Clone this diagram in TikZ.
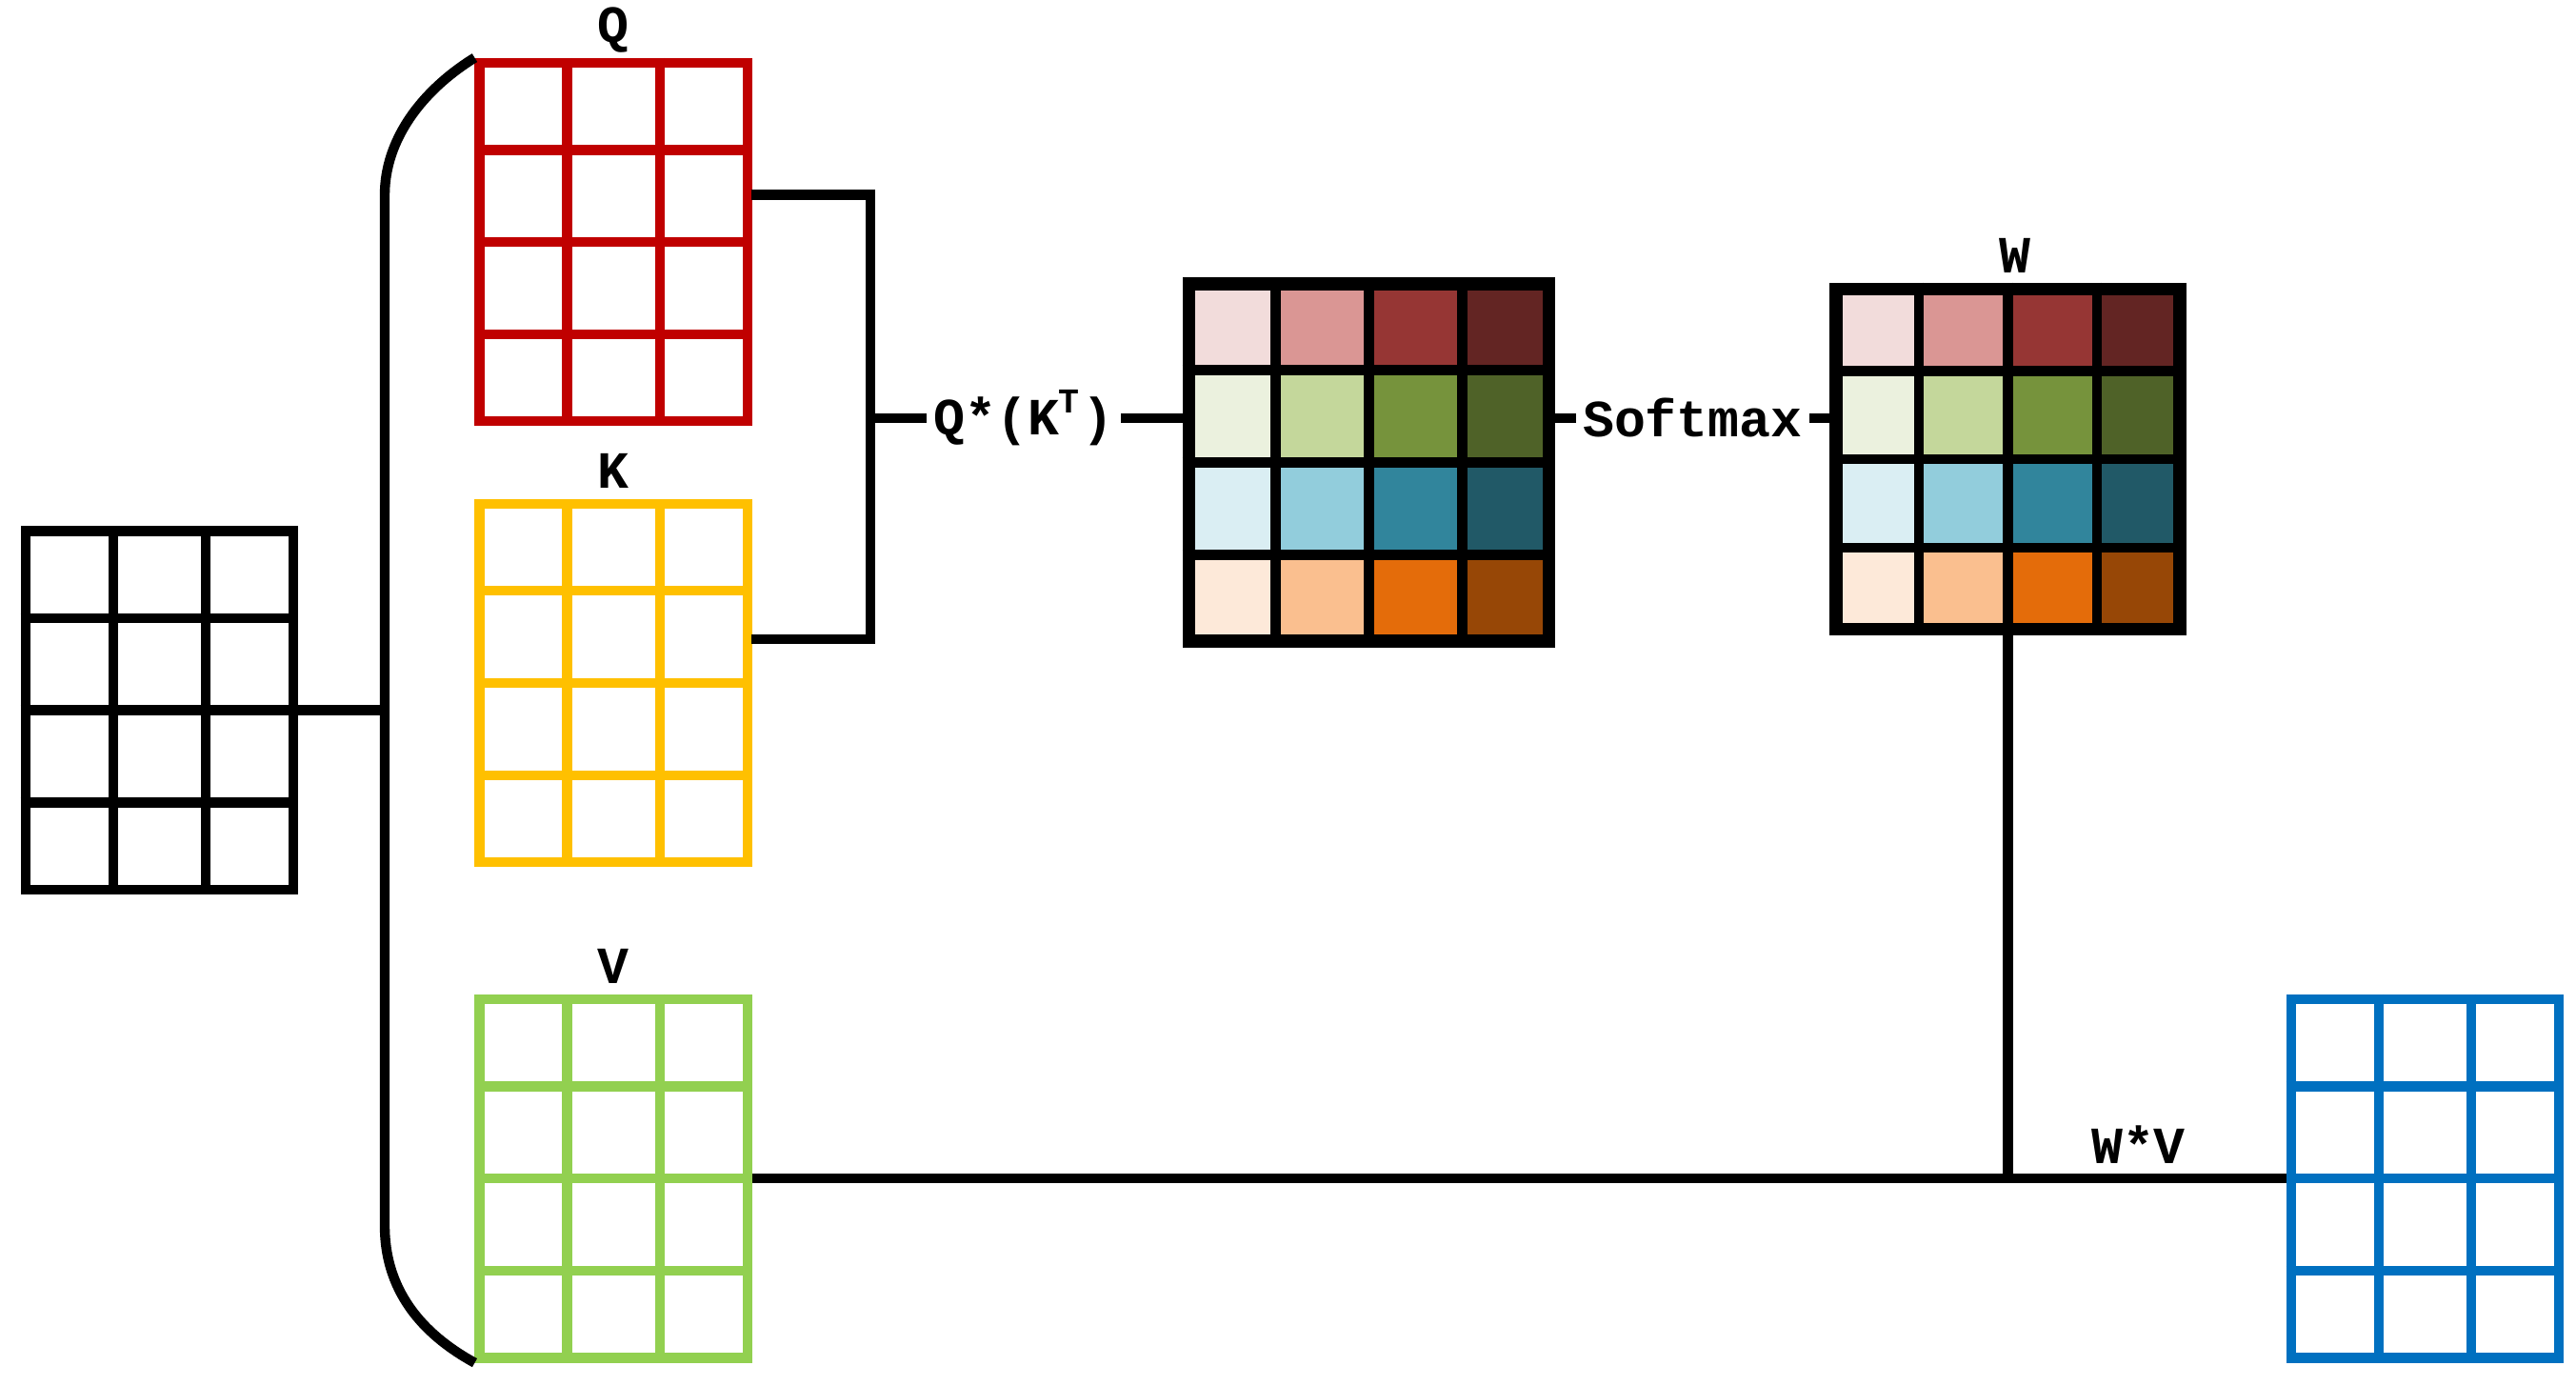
\documentclass[tikz,border=0pt]{standalone}
\usepackage{fontspec}
\setmonofont{Liberation Mono}
\usetikzlibrary{calc}
\definecolor{qred}{HTML}{C00000}
\definecolor{kyel}{HTML}{FFC000}
\definecolor{vgrn}{HTML}{92D050}
\definecolor{oblu}{HTML}{0070C0}
\definecolor{h11}{HTML}{F2DCDB}\definecolor{h12}{HTML}{DA9694}\definecolor{h13}{HTML}{963634}\definecolor{h14}{HTML}{632523}
\definecolor{h21}{HTML}{EBF1DE}\definecolor{h22}{HTML}{C4D79B}\definecolor{h23}{HTML}{76933C}\definecolor{h24}{HTML}{4F6228}
\definecolor{h31}{HTML}{DAEEF3}\definecolor{h32}{HTML}{92CDDC}\definecolor{h33}{HTML}{31859C}\definecolor{h34}{HTML}{215967}
\definecolor{h41}{HTML}{FDE9D9}\definecolor{h42}{HTML}{FABF8F}\definecolor{h43}{HTML}{E46C0A}\definecolor{h44}{HTML}{974706}
\newcommand{\gridlines}[4]{% node, cols, rows, colour
  \foreach \i in {1,...,\numexpr#2-1\relax}
    \draw[#4,line width=1.7pt] ($(#1.north west)!\i/#2!(#1.north east)$) -- ($(#1.south west)!\i/#2!(#1.south east)$);
  \foreach \j in {1,...,\numexpr#3-1\relax}
    \draw[#4,line width=1.7pt] ($(#1.north west)!\j/#3!(#1.south west)$) -- ($(#1.north east)!\j/#3!(#1.south east)$);
}
\newcommand{\heatcells}[1]{% fill the 4x4 cells of node #1
  \foreach \r in {1,...,4}
    \foreach \c in {1,...,4}
      \fill[h\r\c] ($(#1.north west)!{(\c-1)/4}!(#1.north east)!{(\r-1)/4}!($(#1.south west)!{(\c-1)/4}!(#1.south east)$)$)
        rectangle ($(#1.north west)!{\c/4}!(#1.north east)!{\r/4}!($(#1.south west)!{\c/4}!(#1.south east)$)$);
}
\begin{document}
\begin{tikzpicture}[
    x=0.01cm,y=-0.01cm,
    mat/.style={draw,line width=1.7pt,inner sep=0pt,minimum width=1.62cm,minimum height=2.17cm},
    heat/.style={draw,line width=2.2pt,inner sep=0pt},
    lbl/.style={font=\ttfamily\bfseries\small},
    wire/.style={line width=1.7pt}
    ]
    \useasboundingbox (0,0) rectangle (1560,839);

    % matrices
    \node[mat,black] (In) at (96.5,430) {};
    \node[mat,qred] (Q) at (371.5,146.5) {};
    \node[mat,kyel] (K) at (371.5,413.5) {};
    \node[mat,vgrn] (V) at (371.5,713.5) {};
    \node[mat,oblu] (Out) at (1468.5,713.5) {};
    \node[heat,minimum width=2.18cm,minimum height=2.16cm] (QK) at (829,280) {};
    \node[heat,minimum width=2.08cm,minimum height=2.06cm] (W) at (1216,278) {};
    \heatcells{QK}
    \heatcells{W}
    \node[heat,minimum width=2.18cm,minimum height=2.16cm] at (QK) {};
    \node[heat,minimum width=2.08cm,minimum height=2.06cm] at (W) {};
    \gridlines{In}{3}{4}{black}
    \gridlines{Q}{3}{4}{qred}
    \gridlines{K}{3}{4}{kyel}
    \gridlines{V}{3}{4}{vgrn}
    \gridlines{Out}{3}{4}{oblu}
    \gridlines{QK}{4}{4}{black}
    \gridlines{W}{4}{4}{black}

    % labels
    \node[lbl] at (371.5,18) {Q};
    \node[lbl] at (371.5,285) {K};
    \node[lbl] at (371.5,585) {V};
    \node[lbl] at (1220,155) {W};
    \node[lbl,inner sep=1pt] (Mul) at (620,253) {Q*(K\textsuperscript{T})};
    \node[lbl,inner sep=1pt] (Soft) at (1025,253) {Softmax};
    \node[lbl] at (1295,693) {W*V};

    % connectors
    \coordinate (Split) at (233,430);
    \coordinate (Join) at (527,253);
    \coordinate (Tap) at (1216,714);
    \draw[wire] (In.east) -- (Split);
    \draw[wire] (Q.north west) .. controls (255,55) and (233,85) .. (233,118) -- (233,742)
        .. controls (233,785) and (260,810) .. (V.south west);
    \draw[wire] (455,118) -| (Join) |- (455,387);
    \draw[wire] (Join) -- (Mul.west);
    \draw[wire] (Mul.east) -- (Mul.east -| QK.west);
    \draw[wire] (Soft.west -| QK.east) -- (Soft.west);
    \draw[wire] (Soft.east) -- (Soft.east -| W.west);
    \draw[wire] (W.south) -- (Tap);
    \draw[wire] (V.east) -- (Out.west);
\end{tikzpicture}
\end{document}
